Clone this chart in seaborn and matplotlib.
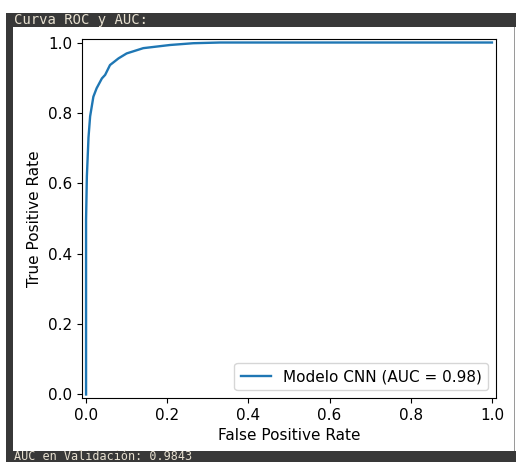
import numpy as np
import pandas as pd
import seaborn as sns
import matplotlib.pyplot as plt
from matplotlib.patches import Rectangle

fpr = [0.0, 0.0, 0.0, 0.002, 0.006, 0.010, 0.018, 0.026, 0.039, 0.047, 0.059,
       0.080, 0.100, 0.141, 0.207, 0.264, 0.330, 0.500, 0.750, 1.0]
tpr = [0.0, 0.300, 0.496, 0.620, 0.730, 0.790, 0.846, 0.870, 0.898, 0.908, 0.936,
       0.955, 0.969, 0.984, 0.993, 0.998, 1.0, 1.0, 1.0, 1.0]
auc_label = 'Modelo CNN (AUC = 0.98)'
header_text = 'Curva ROC y AUC:'
footer_text = 'AUC en Validación: 0.9843'

df = pd.DataFrame({'fpr': fpr, 'tpr': tpr})

W, H = 516, 462
fig = plt.figure(figsize=(W / 100, H / 100), dpi=100)
fig.patch.set_facecolor('white')

# marco oscuro de la celda del notebook
def px_rect(x0, y0, x1, y1, color, z):
    fig.patches.append(Rectangle((x0 / W, 1 - y1 / H), (x1 - x0) / W, (y1 - y0) / H,
                                 transform=fig.transFigure, facecolor=color,
                                 edgecolor='none', zorder=z))

px_rect(6, 13, 516, 462, '#383838', -3)
px_rect(13, 27, 514, 451, 'white', -2)
px_rect(514, 27, 515, 451, '#9a9a9a', -2)
px_rect(515, 27, 516, 451, 'white', -2)

fig.text(14 / W, 1 - 20 / H, header_text, family='DejaVu Sans Mono', fontsize=10,
         color='#e6dfcf', va='center', ha='left')
fig.text(14 / W, 1 - 459.5 / H, footer_text, family='DejaVu Sans Mono', fontsize=8.5,
         color='#e6dfcf', va='baseline', ha='left')

ax = fig.add_axes([82 / W, 1 - 398 / H, (496 - 82) / W, (398 - 39) / H])
sns.lineplot(data=df, x='fpr', y='tpr', ax=ax, sort=False, estimator=None,
             color='#1f77b4', lw=1.7, label=auc_label)
ax.set_xlim(-0.01, 1.01)
ax.set_ylim(-0.01, 1.01)
ax.set_xticks(np.arange(0, 1.01, 0.2))
ax.set_yticks(np.arange(0, 1.01, 0.2))
ax.set_xlabel('False Positive Rate', fontsize=11)
ax.set_ylabel('True Positive Rate', fontsize=11)
ax.tick_params(labelsize=11)
ax.legend(loc='lower right', fontsize=11)

fig.savefig('out.png', dpi=100)
